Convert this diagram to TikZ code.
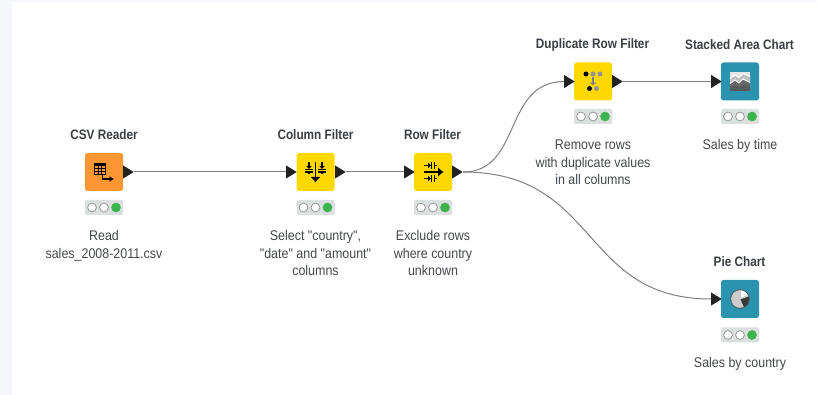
\documentclass[tikz,border=0pt]{standalone}
\usepackage{fontspec}
\setmainfont[FakeStretch=0.86]{Liberation Sans}
\newfontfamily\descfont[FakeStretch=0.89]{Liberation Sans}
\usetikzlibrary{shapes.geometric,arrows.meta}
\definecolor{txt}{HTML}{45484C}
\definecolor{ttl}{HTML}{3B3F45}
\definecolor{orangeN}{HTML}{FF9632}
\definecolor{yellowN}{HTML}{FFD800}
\definecolor{tealN}{HTML}{2A94B0}
\definecolor{trayC}{HTML}{DCDFDF}
\definecolor{greenL}{HTML}{3CB44B}
\definecolor{linkC}{HTML}{808080}
\definecolor{portC}{HTML}{222222}
\definecolor{stripC}{HTML}{F5F7FA}
\tikzset{
  x=1pt,y=-1pt,
  knode/.style={draw=none,rounded corners=2.5pt,minimum size=38pt,inner sep=0pt},
  csvnode/.style={knode,fill=orangeN},
  filternode/.style={knode,fill=yellowN},
  viewnode/.style={knode,fill=tealN},
  porttri/.style={isosceles triangle,isosceles triangle apex angle=60,fill=portC,inner sep=0pt,
     minimum height=10.5pt,minimum width=13pt,isosceles triangle stretches,shape border rotate=0},
  tray/.style={fill=trayC,rounded corners=1.5pt,minimum width=38pt,minimum height=15pt,inner sep=0pt},
  lamp/.style={circle,draw=gray!80,line width=0.8pt,fill=white,minimum size=8.8pt,inner sep=0pt},
  lampon/.style={lamp,draw=greenL,fill=greenL},
  title/.style={font=\bfseries\fontsize{13.7}{15}\selectfont,text=ttl,inner sep=0pt},
  desc/.style={font=\descfont\fontsize{14}{17.7}\selectfont,text=txt,align=center,inner sep=0pt,anchor=north},
  link/.style={draw=linkC,line width=1pt},
  ink/.style={black,line width=1.1pt},
}
\newcommand{\ktray}[3]{% name, x, y
  \node[tray] (#1t) at (#2,#3) {};
  \node[lamp] (#1a) at (#2-12,#3) {};
  \node[lamp] (#1b) at (#2,#3) {};
  \node[lampon] (#1c) at (#2+12,#3) {};
}
\begin{document}
\begin{tikzpicture}
\useasboundingbox (0,0) rectangle (817,395);
\fill[white] (0,0) rectangle (817,395);
\fill[stripC] (0,0) rectangle (12,395);
\fill[stripC] (0,0) rectangle (817,2);

% nodes
\node[csvnode] (csv) at (104,172) {};
\node[filternode] (col) at (315.5,172) {};
\node[filternode] (row) at (433,172) {};
\node[filternode] (dup) at (593,81.5) {};
\node[viewnode] (area) at (740,81.5) {};
\node[viewnode] (pie) at (740,299) {};

% connectors' named port ends
\path (286,172) coordinate (colinb) (404,172) coordinate (rowinb) (564,81.5) coordinate (dupinb)
      (711,81.5) coordinate (areainb) (711,299) coordinate (pieinb);

% ports
\node[porttri,anchor=lower side] (csvout) at (123,172) {};
\node[porttri,anchor=lower side] (colout) at (335,172) {};
\node[porttri,anchor=lower side] (rowout) at (452,172) {};
\node[porttri,anchor=lower side] (dupout) at (612,81.5) {};

% connectors
\draw[link] (csvout.apex) -- (colinb);
\draw[link] (colout.apex) -- (rowinb);
\draw[link] (rowout.apex) .. controls (522,172) and (503,81.5) .. (dupinb);
\draw[link] (dupout.apex) -- (areainb);
\draw[link] (rowout.apex) .. controls (600,172) and (580,299) .. (pieinb);

\node[porttri,anchor=lower side] (colin) at (colinb) {};
\node[porttri,anchor=lower side] (rowin) at (rowinb) {};
\node[porttri,anchor=lower side] (dupin) at (dupinb) {};
\node[porttri,anchor=lower side] (areain) at (areainb) {};
\node[porttri,anchor=lower side] (piein) at (pieinb) {};

% CSV icon
\begin{scope}[shift={(csv.center)}]
\draw[black,line width=0.7pt] (-10,-9) rectangle (1.5,2);
\fill[black] (-10,-9) rectangle (1.5,-6.3);
\foreach \i in {-6.2,-2.4}{\draw[black,line width=0.4pt] (\i,-6.3) -- (\i,2);}
\draw[black,line width=0.4pt] (-10,-3.4) -- (1.5,-3.4) (-10,-0.7) -- (1.5,-0.7);
\draw[black,line width=1.5pt,-{Latex[length=4.5pt,width=6pt]}] (-1,7) -- (10,7);
\draw[black,line width=1.5pt] (-1.7,3.5) -- (-1.7,7.7);
\end{scope}

% Column filter icon
\begin{scope}[shift={(col.center)}]
\draw[ink,line width=1.8pt,-{Latex[length=5.5pt,width=10pt]}] (0,-9.5) -- (0,10.5);
\foreach \i in {-6.5,6.5}{
  \draw[ink] (\i,-9.5) -- (\i,-3.5);
  \fill[black] (\i-2.7,-6) -- (\i+2.7,-6) -- (\i,-3) -- cycle;
  \draw[ink] (\i-3.8,-2.4) -- (\i+3.8,-2.4);
  \draw[ink] (\i-3.8,0) -- (\i+3.8,0);
  \draw[ink] (\i,0) -- (\i,2.5);
}
\end{scope}

% Row filter icon
\begin{scope}[shift={(row.center)}]
\draw[ink,line width=1.8pt,-{Latex[length=5.5pt,width=10pt]}] (-9.5,0) -- (10.5,0);
\foreach \j in {-6.5,6.5}{
  \draw[ink] (-9.5,\j) -- (-2,\j);
  \fill[black] (-5,\j-2.7) -- (-5,\j+2.7) -- (-2,\j) -- cycle;
  \draw[ink] (-1.2,\j-3.8) -- (-1.2,\j+3.8);
  \draw[ink] (1.2,\j-3.8) -- (1.2,\j+3.8);
  \draw[ink] (1.2,\j) -- (4,\j);
}
\end{scope}

% Duplicate filter icon
\begin{scope}[shift={(dup.center)}]
\fill[black] (-7,-7.5) circle (2.5);
\fill[gray!85] (0,-7.5) circle (2.5);
\fill[gray!85] (7,-7.5) circle (2.5);
\fill[black] (-3.5,7) circle (2.5);
\fill[gray!85] (3.5,7) circle (2.5);
\draw[gray,line width=1.1pt] (0,-4) -- (0,3);
\draw[gray,line width=1.1pt] (-2.5,1) -- (0,3) -- (2.5,1);
\end{scope}

% Area chart icon
\begin{scope}[shift={(area.center)}]
\fill[white!90!black] (-10,-9.5) rectangle (10,9.5);
\fill[gray!50] (-10,-3) -- (-5,-6.5) -- (-1,-4) -- (3,-8) -- (10,-5) -- (10,9.5) -- (-10,9.5) -- cycle;
\draw[white,line width=1pt] (-10,-3) -- (-5,-6.5) -- (-1,-4) -- (3,-8) -- (10,-5);
\fill[gray!80!black] (-10,2) -- (-5,-1.5) -- (-1,1.5) -- (3,-2.5) -- (10,1) -- (10,9.5) -- (-10,9.5) -- cycle;
\draw[white,line width=1pt] (-10,2) -- (-5,-1.5) -- (-1,1.5) -- (3,-2.5) -- (10,1);
\fill[black!65] (-10,6) -- (-5,4) -- (-1,6) -- (3,3.5) -- (10,5) -- (10,9.5) -- (-10,9.5) -- cycle;
\end{scope}

% Pie icon: y axis points down here, so angles are measured clockwise on screen
\begin{scope}[shift={(pie.center)}]
\fill[gray!40] (0,0) circle (9);
\fill[gray!45!black] (0.5,0.5) -- (8.8,-2.5) arc (-17:65:9) -- cycle;
\fill[white] (1,-1.5) -- (1,-9) arc (-83:-25:8.8) -- cycle;
\draw[black!65,line width=0.8pt] (0,0) circle (9.4);
\end{scope}

% status
\ktray{s1}{104}{207.5}
\ktray{s2}{315.5}{207.5}
\ktray{s3}{433}{207.5}
\ktray{s4}{593}{116.5}
\ktray{s5}{740}{116.5}
\ktray{s6}{740}{335}

% titles
\node[title] (t1) at (104,134.5) {CSV Reader};
\node[title] (t2) at (315.5,134.5) {Column Filter};
\node[title] (t3) at (432.5,134.5) {Row Filter};
\node[title] (t4) at (592.5,44.5) {Duplicate Row Filter};
\node[title] (t5) at (739.5,44.5) {Stacked Area Chart};
\node[title] (t6) at (739.5,261.5) {Pie Chart};

% descriptions
\node[desc] (d1) at (104,230.5) {Read\\sales\_2008-2011.csv};
\node[desc] (d2) at (315.5,230) {Select "country",\\"date" and "amount"\\columns};
\node[desc] (d3) at (433,230) {Exclude rows\\where country\\unknown};
\node[desc] (d4) at (593,139.5) {Remove rows\\with duplicate values\\in all columns};
\node[desc] (d5) at (740,139.5) {Sales by time};
\node[desc] (d6) at (740,357.5) {Sales by country};
\end{tikzpicture}
\end{document}
